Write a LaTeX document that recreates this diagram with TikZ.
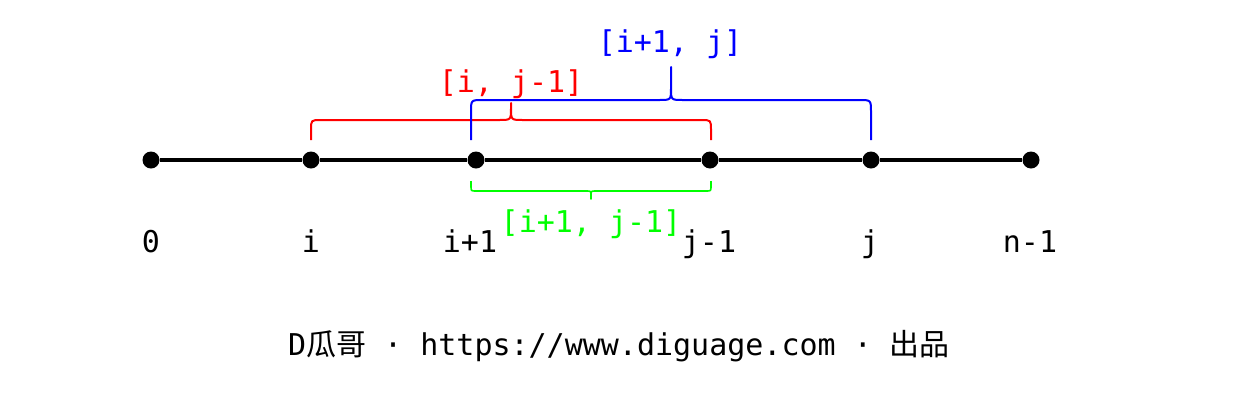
\documentclass[tikz,border=0pt]{standalone}
\usepackage{fontspec}
\setmonofont{DejaVu Sans Mono}
\newfontfamily\cjk{Noto Sans CJK SC}
\definecolor{bred}{RGB}{255,0,0}
\definecolor{bblue}{RGB}{0,0,255}
\definecolor{bgreen}{RGB}{0,255,0}
\begin{document}
\begin{tikzpicture}[x=1pt,y=-1pt,
  font=\ttfamily\fontsize{30}{36}\selectfont,
  dot/.style={circle,fill=black,inner sep=0pt,minimum size=17pt},
  axis/.style={line width=4pt},
  lbl/.style={anchor=base,inner sep=0pt},
  bracepath/.style={line width=2pt,line join=round}]
\useasboundingbox (0,0) rectangle (1240,400);
% points
\node[dot] (p0) at (151,160) {};
\node[dot] (p1) at (311,160) {};
\node[dot] (p2) at (476,160) {};
\node[dot] (p3) at (710,160) {};
\node[dot] (p4) at (871,160) {};
\node[dot] (p5) at (1031,160) {};
\draw[axis] (p0) -- (p1);
\draw[axis] (p1) -- (p2);
\draw[axis] (p2) -- (p3);
\draw[axis] (p3) -- (p4);
\draw[axis] (p4) -- (p5);
% index labels
\node[lbl] (l0) at (151,252) {0};
\node[lbl] (l1) at (311,252) {i};
\node[lbl] (l2) at (470,252) {i+1};
\node[lbl] (l3) at (709,252) {j-1};
\node[lbl] (l4) at (870,252) {j};
\node[lbl] (l5) at (1030,252) {n-1};
% red brace [i, j-1]
\draw[bracepath,bred] (311,140) -- (311,130) .. controls (311,120) .. (321,120) -- (499,120)
  .. controls (511,120) .. (511,108) -- (511,103) -- (511,108)
  .. controls (511,120) .. (523,120) -- (701,120) .. controls (711,120) .. (711,130) -- (711,140);
\node[lbl,text=bred] (rl) at (511,92) {[i, j-1]};
% blue brace [i+1, j]
\draw[bracepath,bblue] (471,140) -- (471,112) .. controls (471,100) .. (483,100) -- (659,100)
  .. controls (671,100) .. (671,88) -- (671,67) -- (671,88)
  .. controls (671,100) .. (683,100) -- (859,100) .. controls (871,100) .. (871,112) -- (871,140);
\node[lbl,text=bblue] (bl) at (670,52) {[i+1, j]};
% green brace [i+1, j-1]
\draw[bracepath,bgreen,line width=1.6pt] (471,181) -- (471,186) .. controls (471,191) .. (476,191) -- (586,191)
  .. controls (591,191) .. (591,195) -- (591,199) -- (591,195)
  .. controls (591,191) .. (596,191) -- (706,191) .. controls (711,191) .. (711,186) -- (711,181);
\node[lbl,text=bgreen] (gl) at (591,232) {[i+1, j-1]};
% footer
\node[lbl] (foot) at (619,355) {D{\cjk 瓜哥} · https://www.diguage.com · {\cjk 出品}};
\end{tikzpicture}
\end{document}
